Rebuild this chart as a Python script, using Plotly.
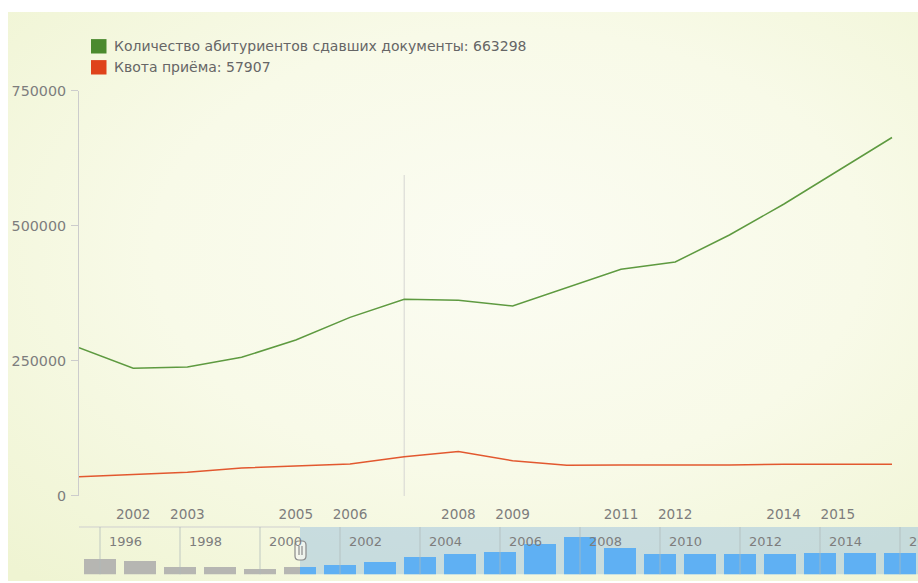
import base64
import plotly.graph_objects as go

W, H = 918, 583

# Admission quota by year (also drives the navigator bars)
years = list(range(1996, 2017))
quota = [48400, 44800, 34900, 34900, 31800,
         34800, 38500, 43000, 51000, 55200, 58400, 71900, 81700,
         64500, 56200, 56400, 56100, 56300, 57800, 57900, 57907]

# Applicants who submitted documents
app_years = list(range(2001, 2017))
applicants = [273900, 235700, 238000, 256000, 288000, 330000, 363500, 361700,
              351000, 384800, 419000, 432600, 482700, 539600, 600700, 663298]

# Year labels printed under the main chart
shown_year_labels = [2002, 2003, 2005, 2006, 2008, 2009, 2011, 2012, 2014, 2015]
y_ticks = [0, 250000, 500000, 750000]
nav_label_years = list(range(1996, 2017, 2))

series_names = ["Количество абитуриентов сдавших документы", "Квота приёма"]
hover_year = 2007
selection_start = 2001

GREEN_LINE = "#5e9a40"
RED_LINE = "#e2582f"
GREEN_KEY = "#4b8a2e"
RED_KEY = "#df431b"
TEXT = "#7d7d7d"
FONT = "DejaVu Sans"


def px(x):
    return x / W


def py(y):
    return 1 - y / H


# layout geometry (pixels)
PLOT_L = 79
MAIN_TOP, MAIN_BOT = 90.7, 495.5
NAV_TOP, NAV_BOT = 527, 574.3
YEAR_PX = 54.2
NAV_YEAR_PX = 40.0

main_range = [2001, 2001 + (W - PLOT_L) / YEAR_PX]
nav_x0 = 1996 - (100 - PLOT_L) / NAV_YEAR_PX
nav_range = [nav_x0, nav_x0 + (W - PLOT_L) / NAV_YEAR_PX]

fig = go.Figure()

fig.add_trace(go.Scatter(x=app_years, y=applicants, mode="lines",
                         line=dict(color=GREEN_LINE, width=1.5),
                         name=series_names[0], xaxis="x", yaxis="y"))
main_q_x = [y for y in years if y >= app_years[0]]
main_q_y = [q for y, q in zip(years, quota) if y >= app_years[0]]
fig.add_trace(go.Scatter(x=main_q_x, y=main_q_y, mode="lines",
                         line=dict(color=RED_LINE, width=1.5),
                         name=series_names[1], xaxis="x", yaxis="y"))

# navigator bars: grey outside the selected range, blue inside
bw = 0.78
gx, gy, gw, go_ = [], [], [], []
bx, by, bwid, bo = [], [], [], []
for yr, q in zip(years, quota):
    left, right = yr - bw / 2, yr + bw / 2
    if right <= selection_start:
        gx.append(yr); gy.append(q); gw.append(bw); go_.append(-bw / 2)
    elif left >= selection_start:
        bx.append(yr); by.append(q); bwid.append(bw); bo.append(-bw / 2)
    else:
        gx.append(yr); gy.append(q); gw.append(selection_start - left); go_.append(left - yr)
        bx.append(yr); by.append(q); bwid.append(right - selection_start); bo.append(selection_start - yr)

fig.add_trace(go.Bar(x=gx, y=gy, width=gw, offset=go_, marker=dict(color="#b6b6b2", line=dict(width=0)),
                     xaxis="x2", yaxis="y2", showlegend=False))
fig.add_trace(go.Bar(x=bx, y=by, width=bwid, offset=bo, marker=dict(color="#5fb0f3", line=dict(width=0)),
                     xaxis="x2", yaxis="y2", showlegend=False))

nav_px_per_unit = 0.64 / 1000
nav_min = 24000
nav_max = nav_min + (NAV_BOT - NAV_TOP) / nav_px_per_unit

# soft radial background
bg_svg = (
    '<svg xmlns="http://www.w3.org/2000/svg" width="910" height="569" viewBox="0 0 910 569" '
    'preserveAspectRatio="none"><defs><radialGradient id="g" cx="0.55" cy="0.42" r="0.78">'
    '<stop offset="0" stop-color="#fbfcf2"/><stop offset="0.5" stop-color="#f8fae8"/>'
    '<stop offset="1" stop-color="#eff4d2"/></radialGradient></defs>'
    '<rect width="910" height="569" fill="url(#g)"/></svg>'
)
bg_uri = "data:image/svg+xml;base64," + base64.b64encode(bg_svg.encode()).decode()

shapes = []
# selected range in the navigator
shapes.append(dict(type="rect", xref="x2", yref="y2 domain", x0=selection_start, x1=nav_range[1] + 1,
                   y0=0, y1=1, fillcolor="rgba(150,190,222,0.48)", line=dict(width=0), layer="below"))
# navigator top border (unselected part)
shapes.append(dict(type="line", xref="x2", yref="y2 domain", x0=nav_range[0], x1=selection_start,
                   y0=1, y1=1, line=dict(color="#cfcfcf", width=1), layer="above"))
# navigator separators every two years
for yr in nav_label_years:
    shapes.append(dict(type="line", xref="x2", yref="y2 domain", x0=yr, x1=yr, y0=0, y1=1,
                       line=dict(color="rgba(175,185,185,0.75)", width=1), layer="above"))
# hover cursor line
shapes.append(dict(type="line", xref="x", yref="paper", x0=hover_year, x1=hover_year,
                   y0=py(496), y1=py(175), line=dict(color="#d6d6d2", width=1), layer="below"))

# range handle
hx0, hx1, hy0, hy1, r = 295, 306, 541, 560, 4
handle_path = (
    f"M {px(hx0 + r)} {py(hy0)} L {px(hx1 - r)} {py(hy0)} Q {px(hx1)} {py(hy0)} {px(hx1)} {py(hy0 + r)} "
    f"L {px(hx1)} {py(hy1 - r)} Q {px(hx1)} {py(hy1)} {px(hx1 - r)} {py(hy1)} "
    f"L {px(hx0 + r)} {py(hy1)} Q {px(hx0)} {py(hy1)} {px(hx0)} {py(hy1 - r)} "
    f"L {px(hx0)} {py(hy0 + r)} Q {px(hx0)} {py(hy0)} {px(hx0 + r)} {py(hy0)} Z"
)
shapes.append(dict(type="path", xref="paper", yref="paper", path=handle_path,
                   fillcolor="rgba(245,247,240,0.85)", line=dict(color="#8a8a8a", width=1.2), layer="above"))
for hx in (299, 302):
    shapes.append(dict(type="line", xref="paper", yref="paper", x0=px(hx), x1=px(hx), y0=py(546), y1=py(555),
                       line=dict(color="#8a8a8a", width=1.2), layer="above"))

# legend keys
legend_rows = [(GREEN_KEY, f"{series_names[0]}: {applicants[-1]}", 46.3),
               (RED_KEY, f"{series_names[1]}: {quota[-1]}", 67.3)]
annotations = []
for color, label, yc in legend_rows:
    shapes.append(dict(type="rect", xref="paper", yref="paper", x0=px(91), x1=px(106.5),
                       y0=py(yc - 7.2), y1=py(yc + 7.2), fillcolor=color, line=dict(width=0), layer="above"))
    annotations.append(dict(xref="paper", yref="paper", x=px(112), y=py(yc), text=label, showarrow=False,
                            xanchor="left", yanchor="middle", font=dict(family=FONT, size=14, color="#666666")))

# navigator year labels
for yr in nav_label_years:
    annotations.append(dict(xref="x2", yref="paper", x=yr + 0.17, y=py(541.7), text=str(yr), showarrow=False,
                            xanchor="left", yanchor="middle", font=dict(family=FONT, size=13, color=TEXT)))

fig.update_layout(
    template="none",
    width=W, height=H,
    autosize=False,
    margin=dict(l=0, r=0, t=0, b=0, pad=0, autoexpand=False),
    paper_bgcolor="white",
    plot_bgcolor="rgba(0,0,0,0)",
    showlegend=False,
    bargap=0,
    font=dict(family=FONT, size=13.5, color=TEXT),
    images=[dict(source=bg_uri, xref="paper", yref="paper", x=px(8), y=py(12),
                 sizex=px(W - 8), sizey=(581 - 12) / H, sizing="stretch",
                 xanchor="left", yanchor="top", layer="below")],
    xaxis=dict(domain=[px(PLOT_L), 1], range=main_range, showgrid=False, zeroline=False, showline=False,
               automargin=False,
               tickvals=shown_year_labels, ticktext=[str(v) for v in shown_year_labels],
               ticks="outside", ticklen=6, tickcolor="rgba(0,0,0,0)",
               tickfont=dict(family=FONT, size=13.6, color=TEXT), anchor="y"),
    yaxis=dict(domain=[py(MAIN_BOT), py(MAIN_TOP)], range=[0, 750000], showgrid=False, zeroline=False,
               automargin=False,
               showline=True, linecolor="#cccccc", linewidth=1,
               tickvals=y_ticks, ticktext=[str(v) for v in y_ticks],
               ticks="outside", ticklen=7, tickcolor="#cccccc", ticklabelstandoff=2,
               tickfont=dict(family=FONT, size=14.3, color=TEXT), anchor="x"),
    xaxis2=dict(domain=[px(PLOT_L), 1], range=nav_range, showgrid=False, zeroline=False, automargin=False,
                showline=False, showticklabels=False, ticks="", anchor="y2"),
    yaxis2=dict(domain=[py(NAV_BOT), py(NAV_TOP)], range=[nav_min, nav_max], showgrid=False, automargin=False,
                zeroline=False, showline=False, showticklabels=False, ticks="", anchor="x2"),
    shapes=shapes,
    annotations=annotations,
)

fig.write_html("out.html")
